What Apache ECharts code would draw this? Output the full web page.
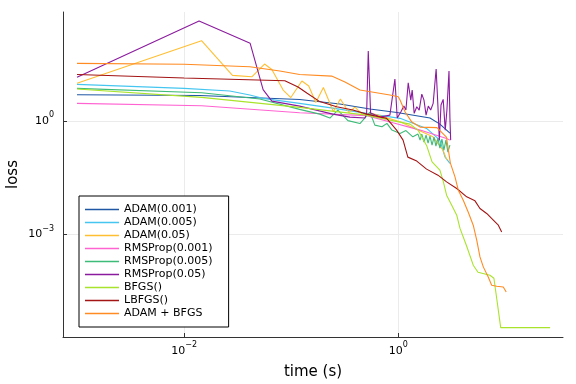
<!DOCTYPE html>
<html>
<head>
<meta charset="utf-8">
<script src="https://cdn.jsdelivr.net/npm/echarts@6/dist/echarts.min.js"></script>
<style>html,body{margin:0;padding:0;background:#fff}#c{width:576px;height:384px}</style>
</head>
<body>
<div id="c"></div>
<script>
// [time (s), loss]
const adam001 = [[0.001,4.86],[0.0140,4.63],[0.120,3.63],[0.285,2.76],[0.544,2.04],[0.973,1.65],[1.98,1.18],[2.45,0.818],[3.04,0.473]];
const adam005 = [[0.001,9.15],[0.01,7.17],[0.0267,6.09],[0.0411,4.77],[0.0543,3.91],[0.120,2.88],[0.245,2.16],[0.507,1.57],[1.04,1.16],[1.84,0.630],[2.45,0.309],[2.73,0.112],[3.04,0.075]];
const adam05 = [[0.001,9.72],[0.01455,129.5],[0.0283,15.8],[0.0429,14.5],[0.0564,31.4],[0.0660,22.5],[0.0842,6.47],[0.0993,4.10],[0.126,11.2],[0.146,8.25],[0.170,3.03],[0.200,7.53],[0.248,1.73],[0.288,3.74],[0.346,1.65],[0.394,2.30],[0.468,1.41],[0.564,1.57],[1.04,0.94],[2.11,0.378],[2.62,0.168],[2.85,0.0917]];
const rms001 = [[0.001,2.88],[0.0146,2.49],[0.120,1.63],[0.507,1.37],[0.892,0.885],[1.60,0.568],[2.83,0.343],[3.04,0.309]];
const rms005 = [[0.001,7.17],[0.0146,5.49],[0.0510,3.74],[0.120,2.00],[0.185,1.50],[0.230,1.18],[0.273,1.92],[0.339,1.01],[0.439,0.844],[0.544,1.70],[0.605,0.770],[0.705,0.695],[0.784,0.854],[0.873,0.568],[1.04,0.465],[1.18,0.551],[1.37,0.378],[1.53,0.446],[1.60,0.309],[1.66,0.446],[1.74,0.274],[1.82,0.419],[1.90,0.258],[1.98,0.394],[2.07,0.228],[2.16,0.371],[2.25,0.215],[2.35,0.349],[2.45,0.190],[2.56,0.329],[2.67,0.168],[2.79,0.309],[2.91,0.149],[3.04,0.228]];
const rms05 = [[0.001,14.0],[0.0138,429],[0.0414,110.6],[0.0547,6.67],[0.0660,3.31],[0.120,2.44],[0.245,1.50],[0.354,1.25],[0.489,1.18],[0.507,1.60],[0.525,69.3],[0.552,1.60],[0.675,1.25],[0.836,1.41],[0.931,12.6],[0.979,1.18],[1.06,1.73],[1.13,2.44],[1.18,1.92],[1.24,10.1],[1.31,3.52],[1.35,6.47],[1.41,1.57],[1.49,2.34],[1.57,1.92],[1.66,5.07],[1.74,3.52],[1.82,1.41],[1.91,2.44],[2.01,1.92],[2.12,2.88],[2.26,23.2],[2.35,2.34],[2.42,0.309],[2.51,2.60],[2.63,3.67],[2.75,0.568],[2.85,1.92],[2.98,20.5],[3.04,1.18],[3.09,0.309]];
const bfgs = [[0.001,6.87],[0.0146,4.15],[0.120,2.26],[0.507,1.41],[0.836,1.04],[1.29,0.818],[1.53,0.568],[1.85,0.215],[2.07,0.0827],[2.45,0.0499],[2.63,0.0256],[2.83,0.0109],[3.16,0.00594],[3.52,0.00324],[3.77,0.00147],[4.36,0.000491],[5.02,0.000155],[5.56,0.000101],[7.19,0.0000843],[7.83,0.0000702],[8.36,0.0000184],[9.06,0.0000035],[26.2,0.0000035]];
const lbfgs = [[0.001,16.6],[0.01,13.4],[0.0873,11.4],[0.116,7.76],[0.140,5.39],[0.185,3.21],[0.266,2.34],[0.377,1.92],[0.507,1.50],[0.780,1.16],[0.966,0.568],[1.11,0.309],[1.23,0.110],[1.49,0.0863],[1.84,0.0531],[2.35,0.0368],[2.83,0.0245],[3.52,0.0164],[4.36,0.00984],[5.21,0.00772],[5.80,0.00486],[6.70,0.00359],[7.73,0.00239],[8.61,0.00176],[9.25,0.00117]];
const adamBfgs = [[0.001,32.8],[0.01,30.9],[0.0411,26.7],[0.0784,20.5],[0.120,16.6],[0.239,15.1],[0.318,10.5],[0.439,6.47],[0.836,4.77],[1.0,4.30],[1.04,3.52],[1.16,1.70],[1.34,0.924],[1.60,0.682],[2.30,0.661],[2.82,0.371],[3.07,0.0764],[3.39,0.0332],[3.64,0.0148],[4.05,0.00805],[4.51,0.00388],[5.02,0.00176],[5.41,0.000708],[5.80,0.000256],[6.23,0.000140],[6.93,0.0000760],[7.46,0.0000458],[8.32,0.0000431],[9.58,0.0000414],[10.2,0.0000305]];

const seriesNames = ['ADAM(0.001)','ADAM(0.005)','ADAM(0.05)','RMSProp(0.001)','RMSProp(0.005)','RMSProp(0.05)','BFGS()','LBFGS()','ADAM + BFGS'];
const seriesData = [adam001, adam005, adam05, rms001, rms005, rms05, bfgs, lbfgs, adamBfgs];
const colors = ['#1f57a5','#45c6f0','#ffbf33','#ff63d2','#3dbb78','#8b1b9e','#a9e32c','#a31414','#ff8b22'];
const xTickExp = [-2, 0];
const yTickExp = [-3, 0];

const fontFam = 'DejaVu Sans';
function expLabel(v){ return '{b|10}{s|' + String(Math.round(v)).replace('-', '\u2212') + '}'; }
const rich = { b:{fontSize:11, lineHeight:20, fontFamily:fontFam, color:'#000'}, s:{fontSize:8, lineHeight:8, verticalAlign:'top', fontFamily:fontFam, color:'#000'} };

const chart = echarts.init(document.getElementById('c'), null, {renderer:'canvas'});
chart.setOption({
  animation:false,
  backgroundColor:'#fff',
  color: colors,
  grid:{left:63, right:13, top:12, bottom:47, containLabel:false, outerBoundsMode:'none'},
  legend:{
    orient:'vertical', left:79, top:196,
    data: seriesNames,
    icon:'rect', itemWidth:34, itemHeight:1.5, itemGap:0,
    padding:[7,16,7,6],
    borderColor:'#000', borderWidth:1, backgroundColor:'#fff',
    textStyle:{fontSize:11, fontFamily:fontFam, color:'#000', lineHeight:13}
  },
  xAxis:{
    type:'value', min:-3.131, max:1.539,
    name:'time (s)', nameLocation:'middle', nameGap:28, nameMoveOverlap:false,
    nameTextStyle:{fontSize:15, fontFamily:fontFam, color:'#000'},
    axisLine:{show:true, onZero:false, lineStyle:{color:'#333', width:1}},
    axisTick:{show:true, inside:true, length:4, customValues:xTickExp, lineStyle:{color:'#333'}},
    axisLabel:{customValues:xTickExp, margin:4, formatter:expLabel, rich:rich},
    splitLine:{show:true, lineStyle:{color:'#ebebeb', width:1}}
  },
  yAxis:{
    type:'value', min:-5.704, max:2.870,
    name:'loss', nameLocation:'middle', nameGap:42, nameMoveOverlap:false,
    nameTextStyle:{fontSize:15, fontFamily:fontFam, color:'#000'},
    axisLine:{show:true, onZero:false, lineStyle:{color:'#333', width:1}},
    axisTick:{show:true, inside:true, length:4, customValues:yTickExp, lineStyle:{color:'#333'}},
    axisLabel:{customValues:yTickExp, margin:9, formatter:expLabel, rich:rich},
    splitLine:{show:true, lineStyle:{color:'#ebebeb', width:1}}
  },
  series: seriesNames.map((n,i)=>({
    name:n, type:'line', showSymbol:false, symbol:'none',
    lineStyle:{width:1.1, color:colors[i]}, itemStyle:{color:colors[i]},
    data: seriesData[i].map(p=>[Math.log10(p[0]), Math.log10(p[1])])
  }))
});
</script>
</body>
</html>
